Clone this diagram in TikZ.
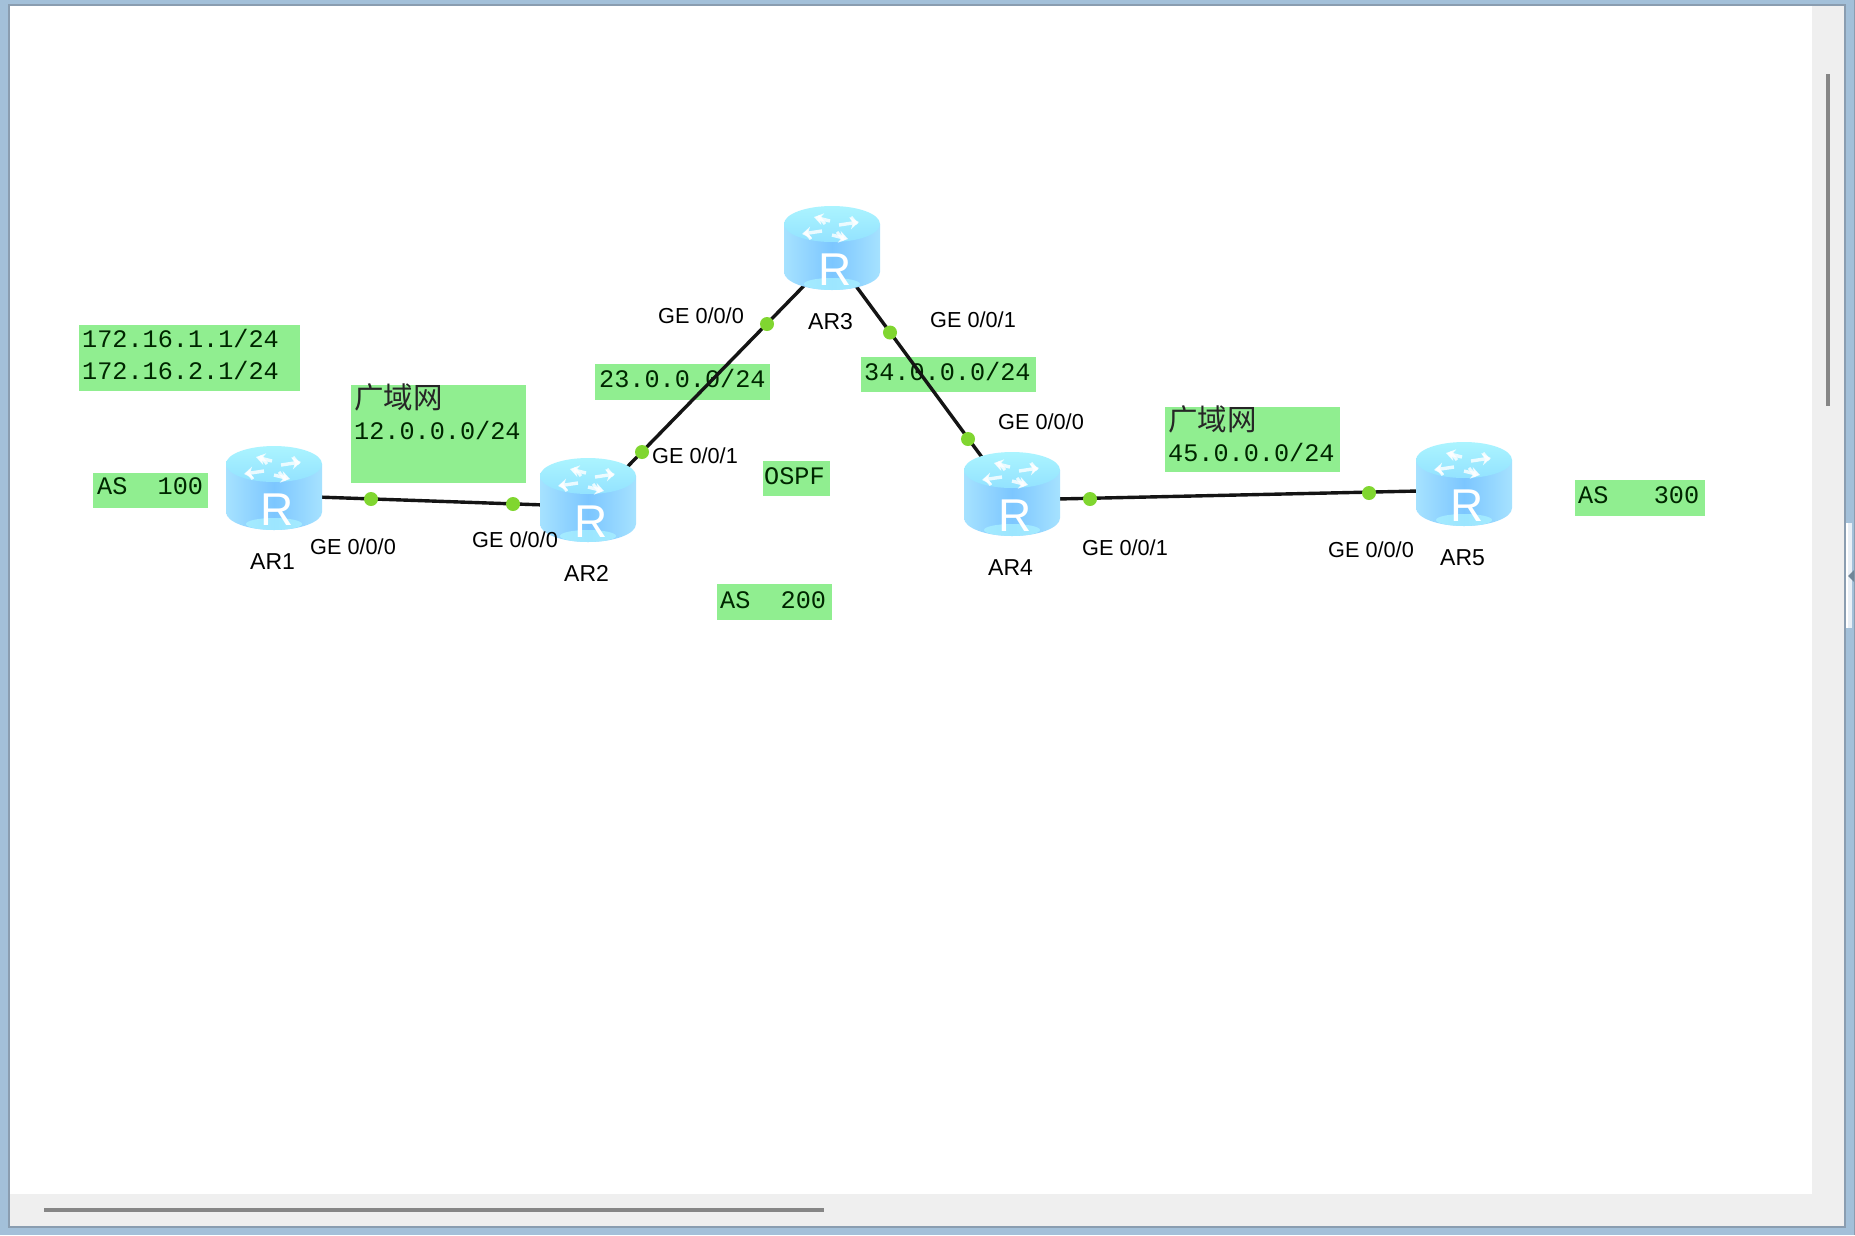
\documentclass[tikz,border=0pt]{standalone}
\usepackage{fontspec}
\setmainfont{Liberation Sans}
\setmonofont{Liberation Mono}
\newfontfamily\cjkfont{Noto Sans CJK SC}
\definecolor{framec}{HTML}{A3C0D9}
\definecolor{framedark}{HTML}{8A9DB0}
\definecolor{barbg}{HTML}{EFEFEF}
\definecolor{barfg}{HTML}{868686}
\definecolor{boxc}{HTML}{90EE90}
\definecolor{dotc}{HTML}{80D630}
\definecolor{rimc}{HTML}{A6E2FF}
\definecolor{midc}{HTML}{7CC6FF}
\definecolor{topc}{HTML}{ABF4FF}
\definecolor{topd}{HTML}{93E2FF}
\usetikzlibrary{arrows.meta}
\tikzset{
  x=1pt,y=-1pt,
  rtanchor/.style={rectangle,minimum width=96pt,minimum height=85pt,inner sep=0pt},
  boxfill/.style={fill=boxc},
  monotext/.style={anchor=base west,inner sep=0pt,font=\ttfamily\fontsize{25.2}{25.2}\selectfont,text=black!85!green},
  cjktext/.style={anchor=west,inner sep=0pt,font=\cjkfont\fontsize{29.5}{29.5}\selectfont,text=black!85},
  portlabel/.style={anchor=base west,inner sep=0pt,font=\fontsize{21.7}{21.7}\selectfont,text=black},
  devlabel/.style={anchor=base west,inner sep=0pt,font=\fontsize{23}{23}\selectfont,text=black},
  rletter/.style={anchor=base,inner sep=0pt,font=\fontsize{46}{46}\selectfont,text=white},
  link/.style={draw=black!92,line width=3.4pt},
  portdot/.style={circle,fill=dotc,minimum size=14pt,inner sep=0pt},
  iconarrow/.style={draw=white,line width=3.4pt,opacity=.8,-{Stealth[length=9pt,width=12pt]}},
  iconstroke/.style={draw=white,line width=3pt,opacity=.8}
}
\newcommand{\routerdraw}[1]{%
  \begin{scope}[shift={(#1.center)}]
    \shade[left color=rimc,right color=rimc,middle color=midc]
      (-48,-24) -- (-48,24) .. controls (-48,34) and (-26,42) .. (0,42)
      .. controls (26,42) and (48,34) .. (48,24) -- (48,-24) -- cycle;
    \fill[topc,opacity=.7] (0,36) ellipse [x radius=28,y radius=6];
    \shade[top color=topc,bottom color=topd] (0,-24) ellipse [x radius=48,y radius=18];
    \begin{scope}[shift={(-1,-20)}]
      \draw[iconarrow] (-1,-7) -- (-17,-11);
      \draw[iconarrow] (-9,3) -- (-29,6);
      \draw[iconarrow] (8,-3) -- (28,-6);
      \draw[iconarrow] (1,7) -- (17,11);
      \draw[iconstroke] (-13,-12) -- (-6,-4);
      \draw[iconstroke] (13,12) -- (6,4);
      \draw[iconstroke] (-26,4) -- (-20,11);
      \draw[iconstroke] (26,-4) -- (20,-11);
    \end{scope}
    \node[rletter] (#1r) at (3,37) {R};
  \end{scope}}
\begin{document}
\begin{tikzpicture}
\useasboundingbox (0,0) rectangle (1855,1235);
% window
\fill[framec] (0,0) rectangle (1855,1235);
\fill[framedark] (8,4) rectangle (1846,1228);
\fill[framedark] (1854,0) rectangle (1855,1235);
\fill[white] (10,6) rectangle (1844,1226);
\fill[barbg] (1812,6) rectangle (1844,1226);
\fill[barbg] (10,1194) rectangle (1844,1226);
\fill[barfg] (1826,74) rectangle (1830,406);
\fill[barfg] (44,1208) rectangle (824,1212);
\fill[white!75!framec] (1846,523) rectangle (1852,628);
\fill[white] (1846,523) rectangle (1847.5,628);
\fill[framec!70!black] (1848,576) -- (1854,570) -- (1854,582) -- cycle;
% routers (anchors)
\node[rtanchor] (ar1) at (274,488) {};
\node[rtanchor] (ar2) at (588,500) {};
\node[rtanchor] (ar3) at (832,248) {};
\node[rtanchor] (ar4) at (1012,494) {};
\node[rtanchor] (ar5) at (1464,484) {};
% green notes
\path[boxfill] (79,325) rectangle (300,391);
\path[boxfill] (351,385) rectangle (526,483);
\path[boxfill] (93,473) rectangle (208,508);
\path[boxfill] (595,364) rectangle (770,400);
\path[boxfill] (861,357) rectangle (1036,392);
\path[boxfill] (1165,407) rectangle (1340,472);
\path[boxfill] (763,461) rectangle (830,496);
\path[boxfill] (717,584) rectangle (832,620);
\path[boxfill] (1575,480) rectangle (1705,516);
\node[monotext] (t1) at (82,347) {172.16.1.1/24};
\node[monotext] (t2) at (82,379) {172.16.2.1/24};
\node[cjktext] (w1) at (354,397) {广域网};
\node[monotext] (t3) at (354,439) {12.0.0.0/24};
\node[monotext] (t4) at (97,494) {AS\ \ 100};
\node[monotext] (t5) at (599,387) {23.0.0.0/24};
\node[monotext] (t6) at (864,380) {34.0.0.0/24};
\node[cjktext] (w2) at (1168,419) {广域网};
\node[monotext] (t7) at (1168,461) {45.0.0.0/24};
\node[monotext] (t8) at (764,484) {OSPF};
\node[monotext] (t9) at (720,608) {AS\ \ 200};
\node[monotext] (t10) at (1578,503) {AS\ \ \ 300};
% links
\draw[link] ([yshift=-7.5pt]ar1.center) -- ([yshift=-6.5pt]ar2.center);
\draw[link] ([xshift=7pt]ar2.center) -- ([yshift=-9pt]ar3.center);
\draw[link] ([xshift=-4pt]ar3.center) -- ([xshift=-3pt]ar4.center);
\draw[link] ([yshift=-6pt]ar4.center) -- ([yshift=-6pt]ar5.center);
% router drawings
\routerdraw{ar1}
\routerdraw{ar2}
\routerdraw{ar3}
\routerdraw{ar4}
\routerdraw{ar5}
% port dots
\node[portdot] (d1) at (371,499) {};
\node[portdot] (d2) at (513,504) {};
\node[portdot] (d3) at (642,452) {};
\node[portdot] (d4) at (767,324) {};
\node[portdot] (d5) at (890,332.5) {};
\node[portdot] (d6) at (968,439) {};
\node[portdot] (d7) at (1090,499) {};
\node[portdot] (d8) at (1369,493) {};
% labels
\node[portlabel] (p1) at (310,554) {GE 0/0/0};
\node[portlabel] (p2) at (472,547) {GE 0/0/0};
\node[portlabel] (p3) at (652,463) {GE 0/0/1};
\node[portlabel] (p4) at (658,323) {GE 0/0/0};
\node[portlabel] (p5) at (930,327) {GE 0/0/1};
\node[portlabel] (p6) at (998,429) {GE 0/0/0};
\node[portlabel] (p7) at (1082,555) {GE 0/0/1};
\node[portlabel] (p8) at (1328,557) {GE 0/0/0};
\node[devlabel] (l1) at (250,569) {AR1};
\node[devlabel] (l2) at (564,581) {AR2};
\node[devlabel] (l3) at (808,329) {AR3};
\node[devlabel] (l4) at (988,575) {AR4};
\node[devlabel] (l5) at (1440,565) {AR5};
\end{tikzpicture}
\end{document}
